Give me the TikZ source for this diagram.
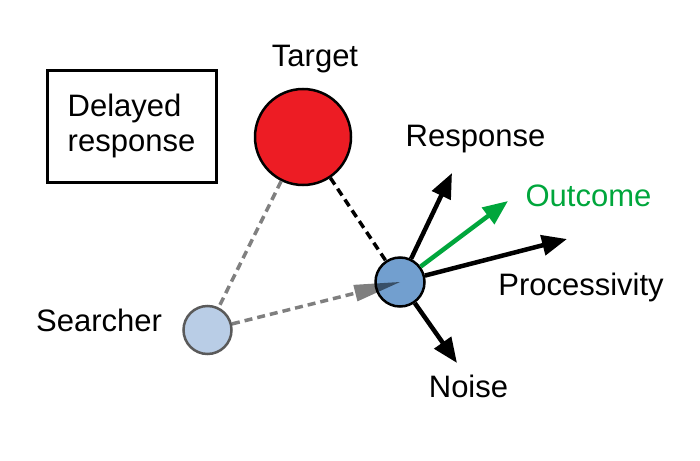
\documentclass[tikz,border=0pt]{standalone}
\usepackage{fontspec}
\setmainfont{Liberation Sans}
\usepackage{tikz}
\usetikzlibrary{calc}
\usetikzlibrary{arrows.meta}

\definecolor{tgtred}{RGB}{237,28,36}
\definecolor{walkblue}{RGB}{114,159,207}
\definecolor{seekblue}{RGB}{185,205,230}
\definecolor{outgreen}{RGB}{0,166,60}

\tikzset{
	disc/.style={circle, draw=black, line width=2.5pt, inner sep=0pt},
	lbl/.style={anchor=base, inner sep=0pt},
	vec/.style={line width=4.5pt, -{Triangle[length=25pt,width=20pt]}},
	trail/.style={line width=3.5pt, dash pattern=on 8pt off 5pt}
}

\begin{document}
\begin{tikzpicture}[x=1pt, y=-1pt, font=\fontsize{31}{35}\selectfont]
			\useasboundingbox (0,0) rectangle (700,460);

			\node[disc, fill=walkblue, minimum size=49pt] (walker) at (400,282) {};
			\node[disc, fill=tgtred, minimum size=96pt] (target) at ($(walker)+(-97,-145)$) {};
			\node[disc, draw={rgb,255:red,90;green,90;blue,90}, fill=seekblue, minimum size=48pt] (seeker) at ($(walker)+(-192.5,48)$) {};

			\node[lbl] (ltarget) at ($(target)+(12,-71)$) {Target};
			\node[lbl] (lseeker) at ($(seeker)+(-108.5,1)$) {Searcher};

			\node[draw, line width=3pt, minimum width=169pt, minimum height=112pt, align=left] (delay) at (131.5,126) {Delayed\\response};

			%tips of the vectors
			\coordinate (tresp) at ($(walker)+(52,-109)$);
			\coordinate (tout) at ($(walker)+(108,-81)$);
			\coordinate (tproc) at ($(walker)+(167,-43)$);
			\coordinate (tnoise) at ($(walker)+(57,81)$);

			\node[lbl] (lresp) at ($(walker)+(75.5,-136)$) {Response};
			\node[lbl, text=outgreen] (lout) at ($(walker)+(188.5,-76)$) {Outcome};
			\node[lbl] (lproc) at ($(walker)+(181,13)$) {Processivity};
			\node[lbl] (lnoise) at ($(walker)+(68.5,115)$) {Noise};

			\draw[trail, gray] (target) -- (seeker);
			\draw[trail, black] (target) -- (walker);

			\draw[vec, black] (walker) -- (tresp);
			\draw[vec, outgreen] (walker) -- (tout);
			\draw[vec, black] (walker) -- (tproc);
			\draw[vec, black] (walker) -- (tnoise);

			\draw[trail, black, opacity=0.5, -{Triangle[length=46pt,width=17pt,line width=0pt]}] (seeker) -- (walker.center);

		\end{tikzpicture}
\end{document}
